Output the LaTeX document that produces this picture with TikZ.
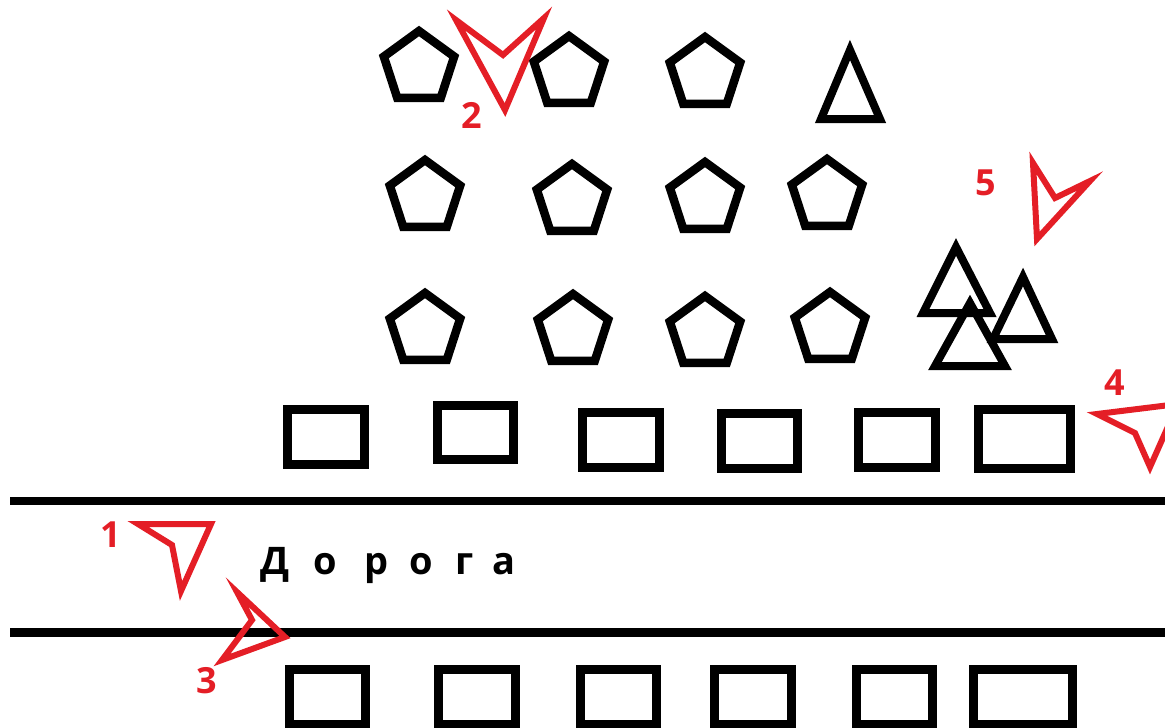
\documentclass[tikz,border=0pt]{standalone}
\usepackage{fontspec}
\setmainfont{Open Sans}
\usetikzlibrary{shapes.geometric}

\definecolor{markred}{RGB}{228,30,38}

\begin{document}
\begin{tikzpicture}[x=1pt,y=-1pt,
    house/.style={draw,line width=8.5pt,regular polygon,regular polygon sides=5,
      minimum size=74pt,inner sep=0pt},
    box/.style={draw,line width=9pt,rectangle,inner sep=0pt},
    tent/.style={draw,line width=8pt},
    view/.style={draw=markred,line width=6pt},
    num/.style={text=markred,font=\fontsize{36}{40}\selectfont\bfseries,inner sep=0pt},
    roadtext/.style={font=\fontsize{38}{44}\selectfont\bfseries,inner sep=0pt,anchor=base}]

  \useasboundingbox (0,0) rectangle (1165,728);

  % road
  \coordinate (roadTL) at (10,501);
  \coordinate (roadTR) at (1165,501);
  \coordinate (roadBL) at (10,632);
  \coordinate (roadBR) at (1165,632);
  \draw [line width=8pt] (roadTL) -- (roadTR);
  \draw [line width=9pt] (roadBL) -- (roadBR);

  \foreach \ch/\x in {Д/275,о/325,р/377,о/421,г/465,а/504}
    \node [roadtext] (road\x) at (\x,574) {\ch};

  % pentagons
  \foreach \n/\x/\y in {a1/419/68, a2/569/73, a3/705/74,
                        b1/425/197, b2/572/201, b3/705/199, b4/827/196,
                        c1/425/330, c2/573/331, c3/705/333, c4/830/329}
    \node [house] (p\n) at (\x,\y) {};

  % triangles
  \draw [tent] (850,50)   -- (821,119) -- (880,119) -- cycle;
  \draw [tent] (956,247)  -- (923,313) -- (990,313) -- cycle;
  \draw [tent] (1023,277) -- (993,339) -- (1052,339) -- cycle;
  \draw [tent] (970,303)  -- (935,366) -- (1005,366) -- cycle;

  % houses along the road
  \foreach \n/\x/\y/\w/\h in {1/326/437/77/55, 2/475.5/432.5/76/54, 3/621/440/77/55,
                              4/759.5/441/76/55, 5/897/440/77/55, 6/1024.5/439/92/59}
    \node [box,minimum width=\w pt,minimum height=\h pt] (up\n) at (\x,\y) {};
  \foreach \n/\x/\w in {1/327.5/76, 2/477/77, 3/618.5/76, 4/753/77, 5/894.5/76, 6/1023/99}
    \node [box,minimum width=\w pt,minimum height=55pt] (low\n) at (\x,697) {};

  % view points
  \draw [view] (138,524) -- (211,524) -- (181,591) -- (172,545) -- cycle;
  \draw [view] (456,20) -- (503,55) -- (544,18) -- (505,110) -- cycle;
  \draw [view] (237,592) -- (285,637) -- (222,660) -- (252,620) -- cycle;
  \draw [view] (1097,414) -- (1178,404) -- (1150,467) -- (1135,433) -- cycle;
  \draw [view] (1033,163) -- (1037,239) -- (1090,181) -- (1055,198) -- cycle;

  \node [num] (n1) at (111,535) {1};
  \node [num] (n2) at (472,115) {2};
  \node [num] (n3) at (207,681) {3};
  \node [num] (n4) at (1115,383) {4};
  \node [num] (n5) at (986,183) {5};
\end{tikzpicture}
\end{document}
